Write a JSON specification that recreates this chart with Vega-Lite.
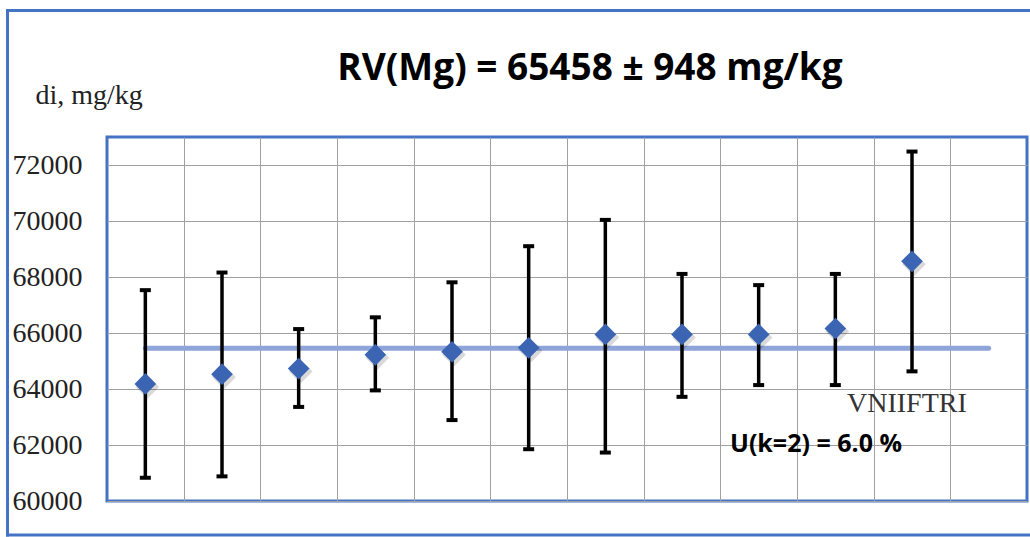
{
  "$schema": "https://vega.github.io/schema/vega-lite/v6.json",
  "width": 920,
  "height": 364,
  "autosize": {"type": "none"},
  "padding": {"left": 107, "top": 137, "right": 3, "bottom": 36},
  "background": "white",
  "config": {
    "view": {"stroke": "#4472c4", "strokeWidth": 3},
    "axisX": {"labels": false, "ticks": false, "domain": false, "grid": true, "gridColor": "#a0a0a0", "gridWidth": 1, "gridOpacity": 1},
    "axisY": {"ticks": false, "domain": false, "grid": true, "gridColor": "#a0a0a0", "gridWidth": 1, "gridOpacity": 1}
  },
  "data": {"values": [
    {"lab": 1, "value": 64180, "low": 60830, "high": 67530},
    {"lab": 2, "value": 64530, "low": 60880, "high": 68160},
    {"lab": 3, "value": 64730, "low": 63360, "high": 66140},
    {"lab": 4, "value": 65220, "low": 63950, "high": 66560},
    {"lab": 5, "value": 65330, "low": 62890, "high": 67810},
    {"lab": 6, "value": 65470, "low": 61850, "high": 69100},
    {"lab": 7, "value": 65950, "low": 61730, "high": 70040},
    {"lab": 8, "value": 65950, "low": 63720, "high": 68110},
    {"lab": 9, "value": 65950, "low": 64140, "high": 67710},
    {"lab": 10, "value": 66160, "low": 64140, "high": 68110},
    {"lab": 11, "value": 68560, "low": 64630, "high": 72480}
  ]},
  "layer": [
    {
      "data": {"values": [{}]},
      "mark": {"type": "rule", "color": "#4472c4", "strokeWidth": 3, "strokeCap": "square"},
      "encoding": {
        "x": {"datum": -0.798, "type": "quantitative", "title": null,
              "scale": {"domain": [0.5, 12.5], "nice": false, "zero": false},
              "axis": {"values": [1.5, 2.5, 3.5, 4.5, 5.5, 6.5, 7.5, 8.5, 9.5, 10.5, 11.5]}},
        "x2": {"datum": 12.539},
        "y": {"datum": 77518, "type": "quantitative", "title": "di, mg/kg",
              "scale": {"domain": [60000, 73000], "nice": false, "zero": false},
              "axis": {"values": [60000, 62000, 64000, 66000, 68000, 70000, 72000], "format": "d",
                       "titleFont": "Liberation Serif", "titleFontSize": 28, "titleFontWeight": "normal", "titleColor": "#222222",
                       "titleAngle": 0, "titleAlign": "left", "titleBaseline": "alphabetic", "titleX": -72, "titleY": -34,
                       "labelFont": "Liberation Serif", "labelFontSize": 28, "labelColor": "#222222", "labelPadding": 25}}
      }
    },
    {
      "data": {"values": [{}]},
      "mark": {"type": "rule", "color": "#4472c4", "strokeWidth": 3, "strokeCap": "square"},
      "encoding": {
        "x": {"datum": -0.798, "type": "quantitative", "title": null},
        "x2": {"datum": 12.539},
        "y": {"datum": 58786, "type": "quantitative", "title": "di, mg/kg"}
      }
    },
    {
      "data": {"values": [{}]},
      "mark": {"type": "rule", "color": "#4472c4", "strokeWidth": 3, "strokeCap": "square"},
      "encoding": {
        "x": {"datum": -0.798, "type": "quantitative", "title": null},
        "y": {"datum": 77518, "type": "quantitative", "title": "di, mg/kg"},
        "y2": {"datum": 58786}
      }
    },
    {
      "data": {"values": [{}]},
      "mark": {"type": "rule", "color": "#8fa5d9", "strokeWidth": 5, "strokeCap": "round"},
      "encoding": {
        "x": {"datum": 1, "type": "quantitative", "title": null},
        "x2": {"datum": 12},
        "y": {"datum": 65458, "type": "quantitative", "title": "di, mg/kg"}
      }
    },
    {
      "mark": {"type": "rule", "color": "black", "strokeWidth": 3.5},
      "encoding": {
        "x": {"field": "lab", "type": "quantitative", "title": null},
        "y": {"field": "low", "type": "quantitative", "title": "di, mg/kg"},
        "y2": {"field": "high"}
      }
    },
    {
      "mark": {"type": "tick", "orient": "horizontal", "color": "black", "size": 11, "thickness": 4, "opacity": 1},
      "encoding": {
        "x": {"field": "lab", "type": "quantitative", "title": null},
        "y": {"field": "low", "type": "quantitative", "title": "di, mg/kg"}
      }
    },
    {
      "mark": {"type": "tick", "orient": "horizontal", "color": "black", "size": 11, "thickness": 4, "opacity": 1},
      "encoding": {
        "x": {"field": "lab", "type": "quantitative", "title": null},
        "y": {"field": "high", "type": "quantitative", "title": "di, mg/kg"}
      }
    },
    {
      "mark": {"type": "point", "shape": "diamond", "size": 560, "filled": true, "color": "#000000", "opacity": 0.15, "xOffset": 2, "yOffset": 3},
      "encoding": {
        "x": {"field": "lab", "type": "quantitative", "title": null},
        "y": {"field": "value", "type": "quantitative", "title": "di, mg/kg"}
      }
    },
    {
      "mark": {"type": "point", "shape": "diamond", "size": 470, "filled": true, "color": "#3b64b3", "opacity": 1},
      "encoding": {
        "x": {"field": "lab", "type": "quantitative", "title": null},
        "y": {"field": "value", "type": "quantitative", "title": "di, mg/kg"}
      }
    },
    {
      "data": {"values": [{"label": "VNIIFTRI"}]},
      "mark": {"type": "text", "font": "Liberation Serif", "fontSize": 28, "color": "#333333", "align": "left", "baseline": "alphabetic"},
      "encoding": {
        "x": {"datum": 10.152, "type": "quantitative", "title": null},
        "y": {"datum": 63179, "type": "quantitative", "title": "di, mg/kg"},
        "text": {"field": "label"}
      }
    },
    {
      "data": {"values": [{"label": "U(k=2) = 6.0 %"}]},
      "mark": {"type": "text", "font": "Open Sans", "fontSize": 25, "fontWeight": "bold", "color": "black", "align": "left", "baseline": "alphabetic"},
      "encoding": {
        "x": {"datum": 8.626, "type": "quantitative", "title": null},
        "y": {"datum": 61750, "type": "quantitative", "title": "di, mg/kg"},
        "text": {"field": "label"}
      }
    },
    {
      "data": {"values": [{"label": "RV(Mg) = 65458 ± 948 mg/kg"}]},
      "mark": {"type": "text", "font": "Open Sans", "fontSize": 37, "fontWeight": "bold", "color": "black", "align": "center", "baseline": "alphabetic"},
      "encoding": {
        "x": {"datum": 6.8, "type": "quantitative", "title": null},
        "y": {"datum": 75036, "type": "quantitative", "title": "di, mg/kg"},
        "text": {"field": "label"}
      }
    }
  ]
}
